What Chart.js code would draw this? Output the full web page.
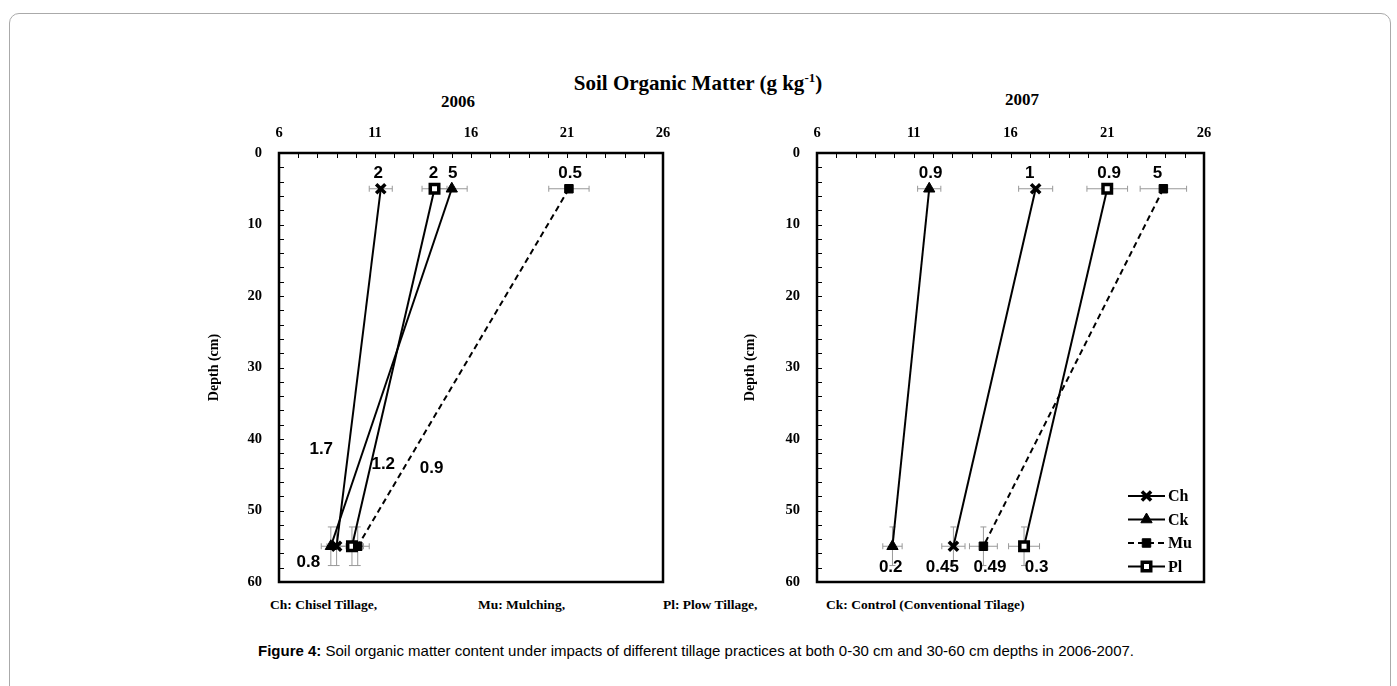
<!DOCTYPE html>
<html>
<head>
<meta charset="utf-8">
<script src="https://cdn.jsdelivr.net/npm/chart.js@4.4.1/dist/chart.umd.min.js"></script>
<style>
  body { margin: 0; background: #fff; width: 1397px; height: 686px; overflow: hidden; position: relative; font-family: 'Liberation Serif', serif; }
  .frame { position: absolute; left: 9px; top: 13px; width: 1380px; height: 720px; border: 1px solid #aaa; border-radius: 10px; }
  .t { position: absolute; font-weight: bold; color: #000; white-space: nowrap; }
  .c { transform: translateX(-50%); }
  canvas { position: absolute; }
  .cap { position: absolute; left: 258px; top: 642px; font: 15px 'Liberation Sans', Arial, sans-serif; color: #000; white-space: nowrap; }
</style>
</head>
<body>
<div class="frame"></div>
<div class="t c" style="left:698px;top:70px;font-size:21px;">Soil Organic Matter (g kg<sup style="font-size:13px">-1</sup>)</div>
<div class="t c" style="left:458px;top:92px;font-size:17px;">2006</div>
<div class="t c" style="left:1022px;top:90px;font-size:17px;">2007</div>

<canvas id="chart2006" width="469" height="482" style="left:204px;top:110px;"></canvas>
<canvas id="chart2007" width="474" height="482" style="left:740px;top:110px;"></canvas>

<div class="t" style="left:270px;top:597px;font-size:13.5px;">Ch: Chisel Tillage,</div>
<div class="t" style="left:478px;top:597px;font-size:13.5px;">Mu: Mulching,</div>
<div class="t" style="left:663px;top:597px;font-size:13.5px;">Pl: Plow Tillage,</div>
<div class="t" style="left:826px;top:597px;font-size:13.5px;">Ck: Control (Conventional Tilage)</div>

<div class="cap"><b>Figure 4:</b> Soil organic matter content under impacts of different tillage practices at both 0-30 cm and 30-60 cm depths in 2006-2007.</div>

<script>
// depth of the two sampling layers (cm)
const depths = [5, 55];
const depthErr = [0, 2.7];
const names = ['Ch', 'Ck', 'Mu', 'Pl'];

// soil organic matter, g/kg  (top layer, bottom layer)
const ch2006 = [11.3, 9.0];
const ck2006 = [15.0, 8.7];
const mu2006 = [21.1, 10.1];
const pl2006 = [14.1, 9.8];
const ch2007 = [17.3, 13.05];
const ck2007 = [11.8, 9.9];
const mu2007 = [23.9, 14.6];
const pl2007 = [21.0, 16.7];

// horizontal error bars
const chErr2006 = [0.6, 0.5];
const ckErr2006 = [0.8, 0.5];
const muErr2006 = [1.05, 0.6];
const plErr2006 = [0.65, 0.6];
const chErr2007 = [0.88, 0.6];
const ckErr2007 = [0.6, 0.5];
const muErr2007 = [1.2, 0.72];
const plErr2007 = [1.05, 0.8];

// the numbers written on the plots
const notes2006 = ['2', '2', '5', '0.5', '1.7', '1.2', '0.9', '0.8'];
const notes2007 = ['0.9', '1', '0.9', '5', '0.2', '0.45', '0.49', '0.3'];
// where they sit, in axis units
const noteX2006 = [11.17, 14.04, 15.05, 21.16, 8.2, 11.43, 13.95, 7.53];
const noteY2006 = [2.8, 2.8, 2.8, 2.8, 41.4, 43.6, 44.1, 57.3];
const noteX2007 = [11.87, 17.0, 21.1, 23.6, 9.81, 12.48, 14.94, 17.35];
const noteY2007 = [2.9, 2.9, 2.9, 2.9, 57.9, 57.9, 57.9, 57.9];

const xTicks = [6, 11, 16, 21, 26];
const yTicks = [0, 10, 20, 30, 40, 50, 60];

const serif = "'Liberation Serif', 'Times New Roman', serif";
const sans = "'Liberation Sans', Arial, sans-serif";

const looks = {
  Ch: { pointStyle: 'crossRot', pointRadius: 6.5, pointBorderWidth: 3.5, pointBackgroundColor: '#000', dash: [] },
  Ck: { pointStyle: 'triangle', pointRadius: 6.5, pointBorderWidth: 1, pointBackgroundColor: '#000', dash: [] },
  Mu: { pointStyle: 'rect', pointRadius: 6, pointBorderWidth: 1, pointBackgroundColor: '#000', dash: [6, 4] },
  Pl: { pointStyle: 'rect', pointRadius: 6, pointBorderWidth: 3.5, pointBackgroundColor: '#fff', dash: [] }
};

function dataset(name, xs, ex) {
  const lk = looks[name];
  return {
    label: name,
    data: xs.map((x, i) => ({ x: x, y: depths[i] })),
    errX: ex,
    errY: depthErr,
    showLine: true,
    borderColor: '#000',
    borderWidth: 2,
    borderDash: lk.dash,
    pointStyle: lk.pointStyle,
    pointRadius: lk.pointRadius,
    pointBorderWidth: lk.pointBorderWidth,
    pointBackgroundColor: lk.pointBackgroundColor,
    pointBorderColor: '#000'
  };
}

const errorBars = {
  id: 'errorBars',
  beforeDatasetsDraw(chart) {
    const ctx = chart.ctx, xs = chart.scales.x, ys = chart.scales.y;
    ctx.save();
    ctx.strokeStyle = '#999';
    ctx.lineWidth = 1;
    chart.data.datasets.forEach(ds => {
      ds.data.forEach((p, i) => {
        const px = xs.getPixelForValue(p.x), py = ys.getPixelForValue(p.y);
        const ex = ds.errX[i], ey = ds.errY[i];
        ctx.beginPath();
        if (ex) {
          const a = xs.getPixelForValue(p.x - ex), b = xs.getPixelForValue(p.x + ex);
          ctx.moveTo(a, py); ctx.lineTo(b, py);
          ctx.moveTo(a, py - 3); ctx.lineTo(a, py + 3);
          ctx.moveTo(b, py - 3); ctx.lineTo(b, py + 3);
        }
        if (ey) {
          const a = ys.getPixelForValue(p.y - ey), b = ys.getPixelForValue(p.y + ey);
          ctx.moveTo(px, a); ctx.lineTo(px, b);
          ctx.moveTo(px - 3, a); ctx.lineTo(px + 3, a);
          ctx.moveTo(px - 3, b); ctx.lineTo(px + 3, b);
        }
        ctx.stroke();
      });
    });
    ctx.restore();
  }
};

const frame = {
  id: 'frame',
  afterDraw(chart) {
    const ctx = chart.ctx, a = chart.chartArea, xs = chart.scales.x, ys = chart.scales.y;
    ctx.save();
    ctx.strokeStyle = '#000';
    ctx.lineWidth = 1;
    ctx.beginPath();
    for (let v = 6; v <= 26; v++) {
      const px = Math.round(xs.getPixelForValue(v)) + 0.5;
      ctx.moveTo(px, a.top); ctx.lineTo(px, a.top + 5);
    }
    for (let v = 0; v <= 60; v += 2) {
      const py = Math.round(ys.getPixelForValue(v)) + 0.5;
      ctx.moveTo(a.left, py); ctx.lineTo(a.left + 5, py);
    }
    ctx.stroke();
    ctx.lineWidth = 2.5;
    ctx.strokeRect(a.left, a.top, a.right - a.left, a.bottom - a.top);
    ctx.restore();
  }
};

const notes = {
  id: 'notes',
  afterDraw(chart, args, opts) {
    const ctx = chart.ctx, xs = chart.scales.x, ys = chart.scales.y;
    ctx.save();
    ctx.fillStyle = '#000';
    ctx.font = 'bold 17px ' + sans;
    ctx.textAlign = 'center';
    ctx.textBaseline = 'middle';
    opts.text.forEach((t, i) => {
      ctx.fillText(t, xs.getPixelForValue(opts.x[i]), ys.getPixelForValue(opts.y[i]));
    });
    if (opts.legend) {
      const a = chart.chartArea;
      chart.data.datasets.forEach((ds, i) => {
        const y = a.bottom - 86 + i * 23.5;
        const x0 = a.right - 76, x1 = a.right - 39;
        ctx.strokeStyle = '#000';
        ctx.lineWidth = 2;
        ctx.setLineDash(ds.borderDash);
        ctx.beginPath(); ctx.moveTo(x0, y); ctx.lineTo(x1, y); ctx.stroke();
        ctx.setLineDash([]);
        ctx.fillStyle = ds.pointBackgroundColor;
        ctx.lineWidth = ds.pointBorderWidth;
        Chart.helpers.drawPoint(ctx, { pointStyle: ds.pointStyle, radius: ds.pointRadius, borderWidth: ds.pointBorderWidth, rotation: 0 }, (x0 + x1) / 2, y);
        ctx.fillStyle = '#000';
        ctx.font = 'bold 16px ' + serif;
        ctx.textAlign = 'left';
        ctx.fillText(ds.label, x1 + 3, y + 1);
      });
    }
    ctx.restore();
  }
};

function makeChart(id, sets, text, nx, ny, legend, yWidth) {
  return new Chart(document.getElementById(id), {
    type: 'scatter',
    data: { datasets: sets },
    options: {
      responsive: false,
      animation: false,
      layout: { padding: { left: 0, right: 10, top: 0, bottom: 10 } },
      plugins: {
        legend: { display: false },
        tooltip: { enabled: false },
        notes: { text: text, x: nx, y: ny, legend: legend }
      },
      scales: {
        x: {
          type: 'linear', position: 'top', min: 6, max: 26,
          grid: { display: false }, border: { display: false },
          afterBuildTicks: s => { s.ticks = xTicks.map(v => ({ value: v })); },
          ticks: { color: '#000', padding: 3, font: { family: serif, size: 14.5, weight: 'bold' } },
          afterFit: s => { s.height = 43; s.paddingLeft = 0; s.paddingRight = 0; }
        },
        y: {
          type: 'linear', reverse: true, min: 0, max: 60,
          grid: { display: false }, border: { display: false },
          afterBuildTicks: s => { s.ticks = yTicks.map(v => ({ value: v })); },
          ticks: { color: '#000', padding: 9, font: { family: serif, size: 14.5, weight: 'bold' } },
          title: { display: true, text: 'Depth (cm)', color: '#000', padding: { top: 2, bottom: 2 }, font: { family: serif, size: 14, weight: 'bold' } },
          afterFit: s => { s.width = yWidth; s.paddingTop = 0; s.paddingBottom = 0; }
        }
      }
    },
    plugins: [errorBars, frame, notes]
  });
}

makeChart('chart2006', [
  dataset('Ch', ch2006, chErr2006),
  dataset('Ck', ck2006, ckErr2006),
  dataset('Mu', mu2006, muErr2006),
  dataset('Pl', pl2006, plErr2006)
], notes2006, noteX2006, noteY2006, false, 75);

makeChart('chart2007', [
  dataset('Ch', ch2007, chErr2007),
  dataset('Ck', ck2007, ckErr2007),
  dataset('Mu', mu2007, muErr2007),
  dataset('Pl', pl2007, plErr2007)
], notes2007, noteX2007, noteY2007, true, 77);
</script>
</body>
</html>
